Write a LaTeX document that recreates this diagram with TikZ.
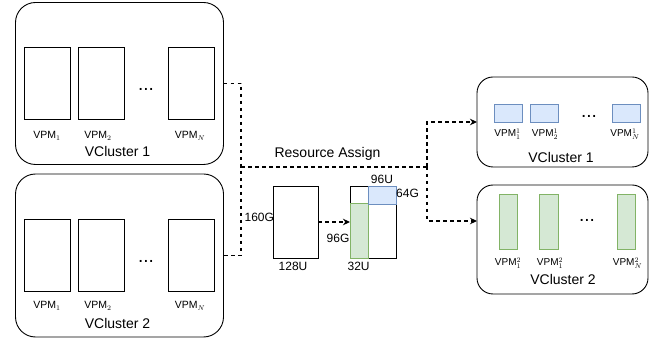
\documentclass[tikz,border=0pt]{standalone}
\usepackage{fontspec}
\setmainfont{Liberation Sans}
\usetikzlibrary{arrows.meta,positioning}

\definecolor{vmblue}{HTML}{DAE8FC}
\definecolor{vmbluedraw}{HTML}{6C8EBF}
\definecolor{vmgreen}{HTML}{D5E8D4}
\definecolor{vmgreendraw}{HTML}{82B366}

\begin{document}
\begin{tikzpicture}[
  x=1pt, y=-1pt,
  >={Stealth[length=7pt,width=6.5pt]},
  node distance=8pt,
  every node/.style={inner sep=0pt, outer sep=0pt},
  cluster/.style={draw, line width=0.9pt, rounded corners=20pt},
  vpm/.style={draw, line width=0.9pt, minimum width=46pt, minimum height=72pt},
  bluevm/.style={draw=vmbluedraw, fill=vmblue, line width=0.9pt},
  greenvm/.style={draw=vmgreendraw, fill=vmgreen, line width=0.9pt},
  lab/.style={font=\fontsize{10.5}{12}\selectfont, anchor=base},
  slab/.style={font=\fontsize{10}{12}\selectfont, anchor=base},
  res/.style={font=\fontsize{12}{14}\selectfont, anchor=base},
  title/.style={font=\fontsize{14}{16}\selectfont, anchor=base},
  dots/.style={font=\fontsize{19}{20}\selectfont, anchor=base},
  link/.style={line width=1.3pt, dash pattern=on 3.5pt off 3.5pt}
]
\useasboundingbox (0,0) rectangle (661,344);

% Left clusters
\node[cluster, minimum width=208pt, minimum height=162pt] (c1) at (119.5,83.5) {};
\node[vpm] (c1v1) at (47,83) {};
\node[vpm, right=of c1v1] (c1v2) {};
\node[vpm] (c1vn) at (191.5,83) {};
\node[dots] (c1dots) at (146,91) {...};
\node[lab] (c1l1) at (47,138.5) {VPM$_1$};
\node[lab] (c1l2) at (98,138.5) {VPM$_2$};
\node[lab] (c1ln) at (190,138.5) {VPM$_N$};
\node[title] (c1t) at (117.5,156.7) {VCluster 1};

\node[cluster, minimum width=208pt, minimum height=163pt] (c2) at (119.5,255.5) {};
\node[vpm] (c2v1) at (47,255) {};
\node[vpm, right=of c2v1] (c2v2) {};
\node[vpm] (c2vn) at (191.5,255) {};
\node[dots] (c2dots) at (146,263) {...};
\node[lab] (c2l1) at (47,308.7) {VPM$_1$};
\node[lab] (c2l2) at (98,308.7) {VPM$_2$};
\node[lab] (c2ln) at (190,308.7) {VPM$_N$};
\node[title] (c2t) at (117.5,328.7) {VCluster 2};

% Resource split
\node[draw, line width=0.9pt, minimum width=45pt, minimum height=72pt] (host) at (295.5,222) {};
\node[draw, line width=0.9pt, minimum width=46pt, minimum height=72pt] (pool) at (373,222) {};
\node[greenvm, minimum width=18pt, minimum height=55pt] (part2) at (359,230.5) {};
\node[bluevm, minimum width=28pt, minimum height=18pt] (part1) at (382,195) {};
\node[res, anchor=base east] (hmem) at (274,222) {160G};
\node[res] (hcpu) at (293,271) {128U};
\node[res] (p1cpu) at (382,183.3) {96U};
\node[res] (p1mem) at (407.5,198) {64G};
\node[res] (p2mem) at (338,243) {96G};
\node[res] (p2cpu) at (358.6,271) {32U};
\node[title] (assign) at (327.5,158) {Resource Assign};

% Right clusters
\node[cluster, rounded corners=16pt, minimum width=171pt, minimum height=90pt] (r1) at (562.5,122) {};
\node[bluevm, minimum width=28pt, minimum height=18pt] (r1v1) at (508,113) {};
\node[bluevm, minimum width=28pt, minimum height=18pt, right=of r1v1] (r1v2) {};
\node[bluevm, minimum width=28pt, minimum height=18pt] (r1vn) at (626,113) {};
\node[dots] (r1dots) at (589,118) {...};
\node[slab] (r1l1) at (507.5,137) {VPM$^1_1$};
\node[slab] (r1l2) at (545,137) {VPM$^1_2$};
\node[slab] (r1ln) at (625,137) {VPM$^1_N$};
\node[title] (r1t) at (561,163) {VCluster 1};

\node[cluster, rounded corners=16pt, minimum width=171pt, minimum height=109pt] (r2) at (562.5,239.5) {};
\node[greenvm, minimum width=18pt, minimum height=55pt] (r2v1) at (508,221.5) {};
\node[greenvm, minimum width=19pt, minimum height=55pt] (r2v2) at (548.5,221.5) {};
\node[greenvm, minimum width=18pt, minimum height=55pt] (r2vn) at (626,221.5) {};
\node[dots] (r2dots) at (587,222) {...};
\node[slab] (r2l1) at (508,266) {VPM$^2_1$};
\node[slab] (r2l2) at (550,266) {VPM$^2_1$};
\node[slab] (r2ln) at (627.5,266) {VPM$^2_N$};
\node[title] (r2t) at (563,285) {VCluster 2};

% Arrows
\coordinate (join) at (241,167);
\coordinate (split) at (427,167);
\coordinate (in2) at (r2.west |- 0,221);
\draw[link] (c1.east) -| (join) |- (c2.east);
\draw[link] (join) -- (split);
\draw[link,->] (split) |- (r1.west);
\draw[link,->] (split) |- (in2);
\draw[link,->] (host) -- (pool);

\end{tikzpicture}
\end{document}
